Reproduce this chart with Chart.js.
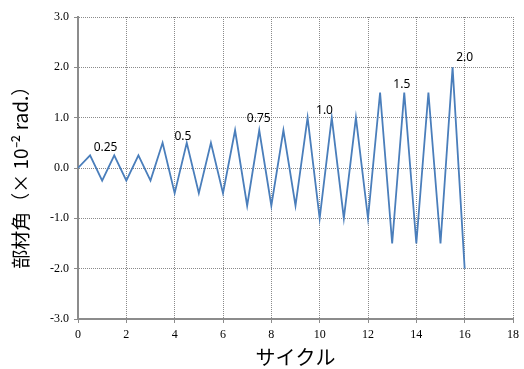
<!DOCTYPE html>
<html>
<head>
<meta charset="utf-8">
<script src="https://cdn.jsdelivr.net/npm/chart.js@4"></script>
<style>
  body { margin: 0; background: #fff; }
</style>
</head>
<body>
<canvas id="cycleChart" width="524" height="369"></canvas>
<script>
// half-cycle points of the loading history
const cycles = [0, 0.5, 1, 1.5, 2, 2.5, 3, 3.5, 4, 4.5, 5, 5.5, 6, 6.5, 7, 7.5, 8, 8.5, 9,
	9.5, 10, 10.5, 11, 11.5, 12, 12.5, 13, 13.5, 14, 14.5, 15, 15.5, 16]
const angles = [0, 0.25, -0.25, 0.25, -0.25, 0.25, -0.25, 0.5, -0.5, 0.5, -0.5, 0.5, -0.5,
	0.75, -0.75, 0.75, -0.75, 0.75, -0.75, 1.0, -1.0, 1.0, -1.0, 1.0, -1.0,
	1.5, -1.5, 1.5, -1.5, 1.5, -1.5, 2.0, -2.0]

// amplitude notes written next to each group of cycles
const noteTexts = ['0.25', '0.5', '0.75', '1.0', '1.5', '2.0']
const noteX = [1.14, 4.34, 7.48, 10.2, 13.4, 16.0]
const noteY = [0.4, 0.62, 0.99, 1.15, 1.65, 2.19]

const points = cycles.map((c, i) => ({ x: c, y: angles[i] }))

const notePlugin = {
	id: 'notes',
	afterDatasetsDraw(chart) {
		const { ctx, scales } = chart
		ctx.save()
		ctx.font = '12px "Noto Sans"'
		ctx.fillStyle = '#000'
		ctx.textAlign = 'center'
		ctx.textBaseline = 'middle'
		noteTexts.forEach((t, i) => {
			ctx.fillText(t, scales.x.getPixelForValue(noteX[i]), scales.y.getPixelForValue(noteY[i]))
		})
		ctx.restore()
	},
}

const gridStyle = {
	color: '#8a8a8a',
	lineWidth: 1,
	tickLength: 4,
	tickColor: '#8c8c8c',
	tickBorderDash: [],
}

const ctx1 = document.getElementById('cycleChart')

new Chart(ctx1, {
	type: 'line',
	data: {
		datasets: [
			{
				data: points,
				borderColor: '#4a7ebb',
				borderWidth: 1.8,
				pointRadius: 0,
				tension: 0,
				fill: false,
			},
		],
	},
	options: {
		responsive: false,
		animation: false,
		layout: { padding: { top: 17, right: 10, left: 0, bottom: 0 } },
		plugins: {
			legend: { display: false },
			tooltip: { enabled: false },
		},
		scales: {
			x: {
				type: 'linear',
				min: 0,
				max: 18,
				grid: gridStyle,
				border: { display: true, color: '#8c8c8c', width: 2, dash: [1, 1] },
				ticks: {
					stepSize: 2,
					maxRotation: 0,
					padding: 5,
					color: '#000',
					font: { family: '"Liberation Serif"', size: 12 },
				},
				title: {
					display: true,
					text: 'サイクル',
					color: '#000',
					font: { family: '"Noto Sans CJK JP"', size: 20, weight: 'normal' },
					padding: { top: 3, bottom: 0 },
				},
				afterFit(scale) {
					scale.height = 50
				},
			},
			y: {
				min: -3,
				max: 3,
				grid: gridStyle,
				border: { display: true, color: '#8c8c8c', width: 2, dash: [1, 1] },
				ticks: {
					stepSize: 1,
					padding: 5,
					color: '#000',
					font: { family: '"Liberation Serif"', size: 12 },
					callback: (v) => v.toFixed(1),
				},
				title: {
					display: true,
					text: '部材角（× 10⁻² rad.）　',
					color: '#000',
					font: { family: '"Noto Sans CJK JP"', size: 19, weight: 'normal' },
					padding: { top: 9, bottom: 0 },
				},
				afterFit(scale) {
					scale.width = 78
				},
			},
		},
	},
	plugins: [notePlugin],
})
</script>
</body>
</html>
